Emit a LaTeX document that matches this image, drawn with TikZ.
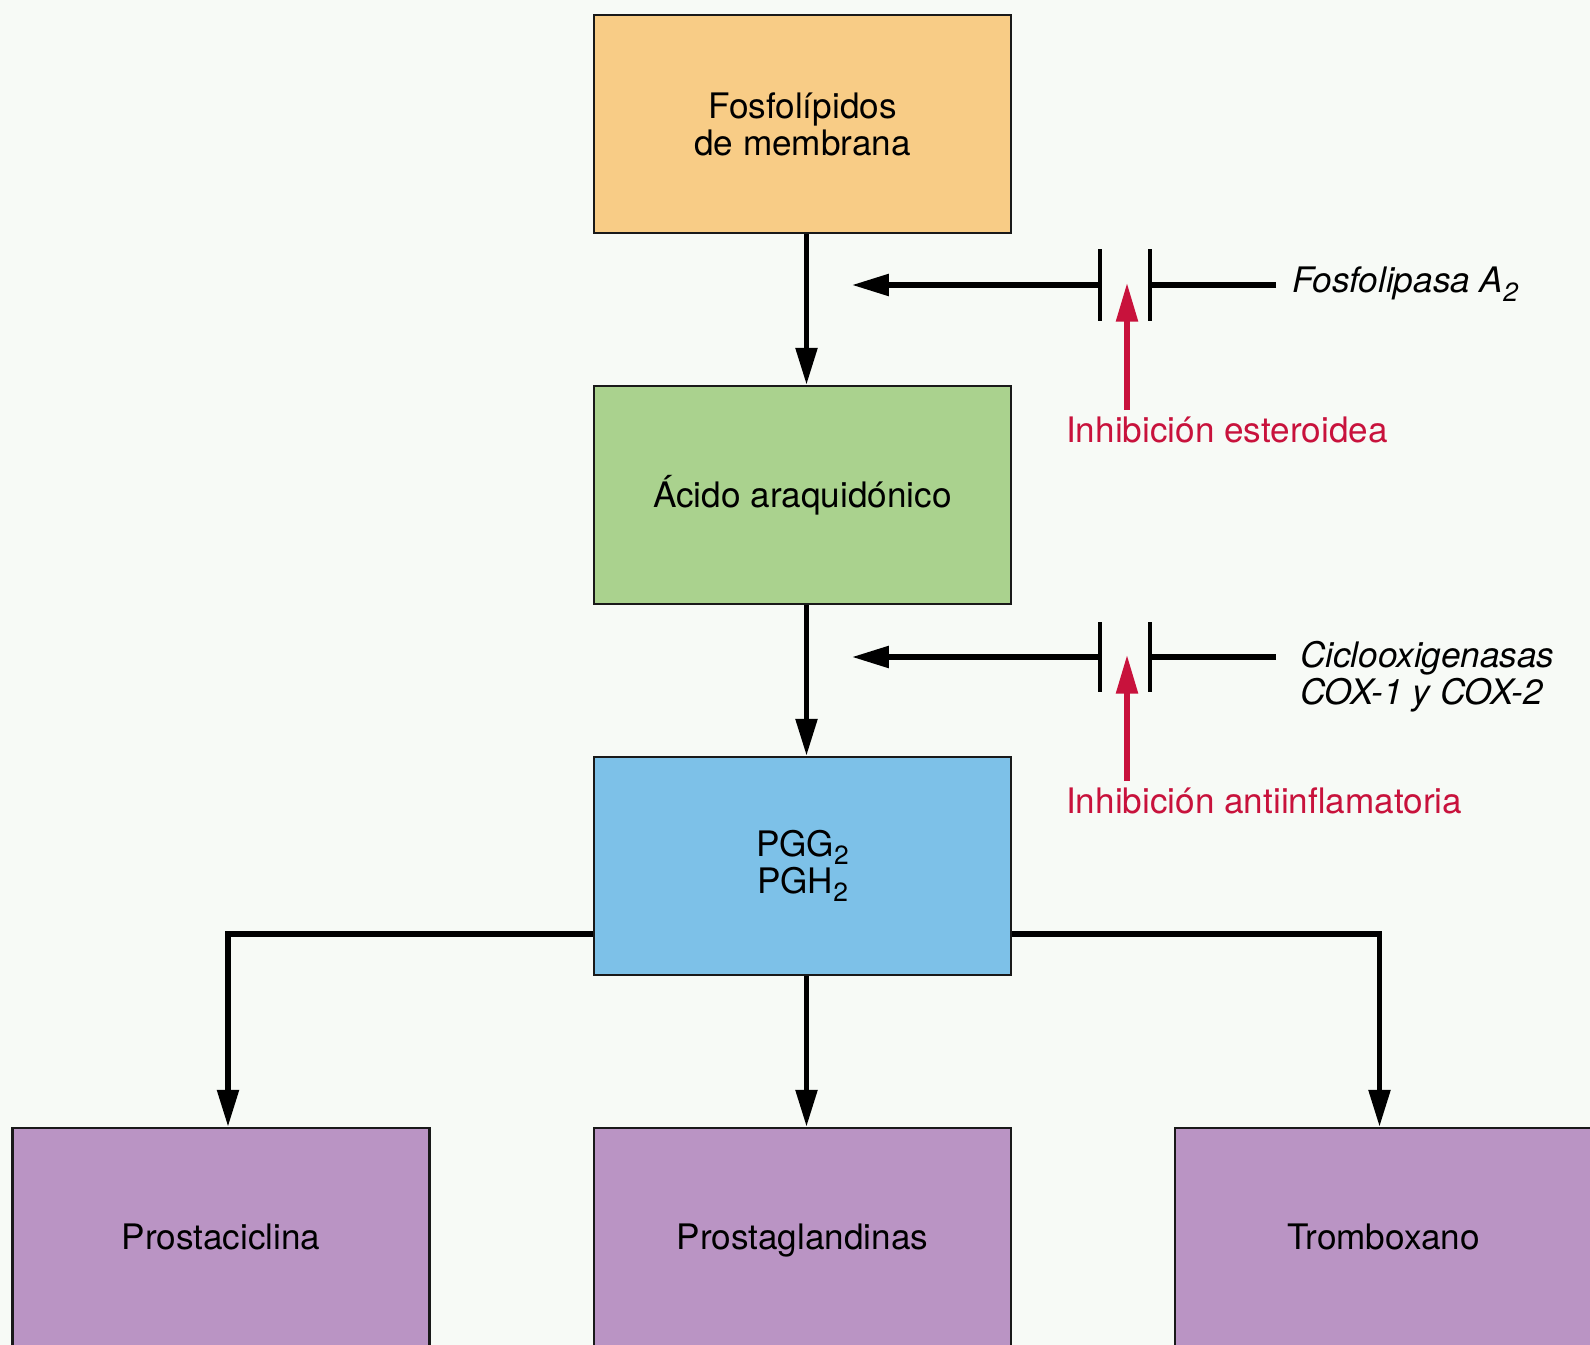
\documentclass[tikz,border=0pt]{standalone}
\usepackage{fontspec}
\setmainfont{TeX Gyre Heros}
\usetikzlibrary{arrows.meta}
\definecolor{paper}{RGB}{247,250,246}
\definecolor{lipidfill}{RGB}{248,204,134}
\definecolor{araqfill}{RGB}{170,210,142}
\definecolor{pgfill}{RGB}{125,193,232}
\definecolor{prodfill}{RGB}{186,148,196}
\definecolor{inhibred}{RGB}{200,18,60}
\newcommand{\lowtwo}{\raisebox{-0.45ex}{\fontsize{15}{15}\selectfont 2}}
\begin{document}
\begin{tikzpicture}[x=0.02cm, y=-0.02cm, font=\fontsize{20}{21}\selectfont,
  box/.style={draw=black!90, line width=1.5pt, minimum width=8.34cm,
    minimum height=4.36cm, align=center, inner sep=0pt},
  prod/.style={box, fill=prodfill, text depth=0pt},
  flow/.style={line width=3pt, -{Triangle[length=21pt, width=12pt]}},
  bar/.style={line width=2pt},
  redflow/.style={draw=inhibred, line width=3pt, -{Triangle[length=22pt, width=12pt]}},
  enz/.style={font=\fontsize{20}{21}\selectfont\itshape, align=left, anchor=west},
  redlabel/.style={text=inhibred, anchor=base west}]
\useasboundingbox (0,0) rectangle (1590,1345);
\clip (0,0) rectangle (1590,1345);
\fill[paper] (0,0) rectangle (1590,1345);
% main chain
\node[box, fill=lipidfill] (fosf) at (802.5,124) {Fosfolípidos\\de membrana};
\node[box, fill=araqfill] (araq) at (802.5,495) {Ácido araquidónico};
\node[box, fill=pgfill] (pgg) at (802.5,866) {PGG\lowtwo\\PGH\lowtwo};
\node[prod] (prci) at (221,1237) {Prostaciclina};
\node[prod] (prgl) at (802.5,1237) {Prostaglandinas};
\node[prod] (trbx) at (1383.5,1237) {Tromboxano};
\draw[flow] ([xshift=0.08cm]fosf.south) -- ([xshift=0.08cm]araq.north);
\draw[flow] ([xshift=0.08cm]araq.south) -- ([xshift=0.08cm]pgg.north);
% branches to the products
\coordinate (split) at (0,934);
\draw[flow] (pgg.west |- split) -| ([xshift=0.14cm]prci.north);
\draw[flow] ([xshift=0.08cm]pgg.south) -- ([xshift=0.08cm]prgl.north);
\draw[flow] (pgg.east |- split) -| ([xshift=-0.08cm]trbx.north);
% first block: phospholipase A2, steroids
\coordinate (tipA) at (852,285);
\coordinate (barAl) at (1100,285);
\coordinate (barAr) at (1150,285);
\coordinate (hitA) at (1127,283);
\node[enz, inner xsep=9pt] (pla) at (1276,284) {Fosfolipasa A\lowtwo};
\draw[flow] (barAl) -- (tipA);
\draw[line width=3pt] (pla.west |- barAr) -- (barAr);
\draw[bar] (1100,249) -- (1100,321);
\draw[bar] (1150,249) -- (1150,321);
\node[redlabel] (ster) at (1060,442) {Inhibición esteroidea};
\draw[redflow] (ster.north -| hitA) -- (hitA);
% second block: cyclooxygenases, anti-inflammatories
\coordinate (tipB) at (852,657);
\coordinate (barBl) at (1100,657);
\coordinate (barBr) at (1150,657);
\coordinate (hitB) at (1127,655);
\node[enz, inner xsep=13.5pt] (cox) at (1276,677) {Ciclooxigenasas\\COX-1 y COX-2};
\draw[flow] (barBl) -- (tipB);
\draw[line width=3pt] (cox.west |- barBr) -- (barBr);
\draw[bar] (1100,622) -- (1100,692);
\draw[bar] (1150,622) -- (1150,692);
\node[redlabel] (aine) at (1060,813) {Inhibición antiinflamatoria};
\draw[redflow] (aine.north -| hitB) -- (hitB);
\end{tikzpicture}
\end{document}
